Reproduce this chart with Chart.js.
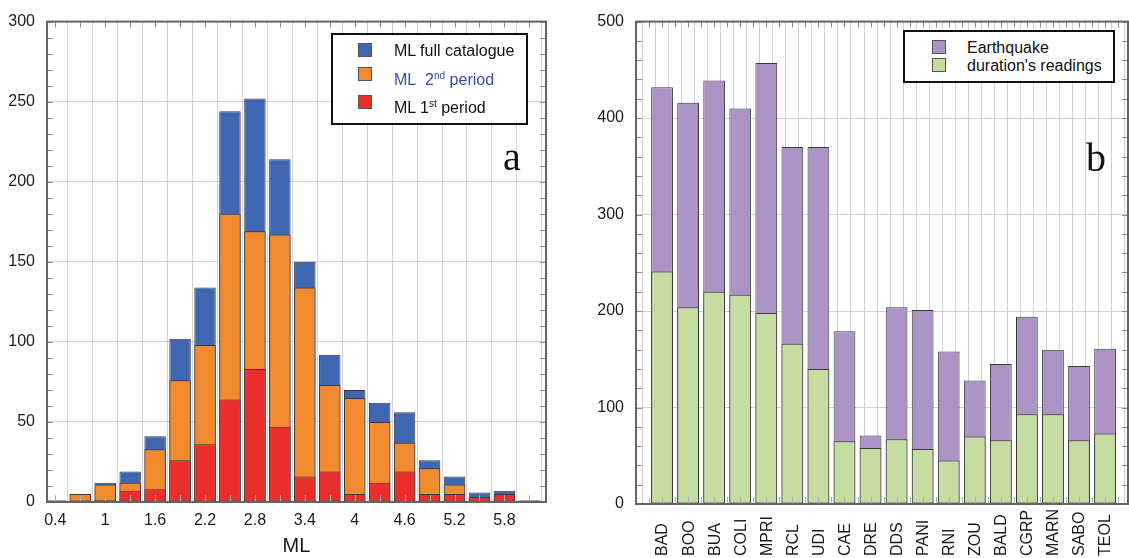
<!DOCTYPE html>
<html>
<head>
<meta charset="utf-8">
<script src="https://cdn.jsdelivr.net/npm/chart.js@4.4.0/dist/chart.umd.min.js"></script>
<style>
    body { margin: 0; background: #ffffff; font-family: "Liberation Sans", Arial, sans-serif; }
    #wrap { position: relative; width: 1129px; height: 558px; overflow: hidden; }
    canvas { position: absolute; top: 0; }
    .legend { position: absolute; border: 2px solid #111; background: #fff; box-sizing: border-box; font-size: 16px; color: #111; }
    .legend .item { position: absolute; white-space: nowrap; line-height: 18px; }
    .legend .swatch { position: absolute; width: 14px; height: 14px; border: 1px solid #555; box-sizing: border-box; }
    .legend sup { font-size: 10px; line-height: 0; vertical-align: 6px; }
    .panel_letter { position: absolute; font-family: "Liberation Serif", "DejaVu Serif", serif; font-size: 40px; color: #111; line-height: 40px; }
</style>
</head>
<body>
<div id="wrap">
    <canvas id="chart_ml" width="560" height="558" style="left:0px"></canvas>
    <canvas id="chart_stations" width="549" height="558" style="left:580px"></canvas>

    <div class="legend" style="left:331px; top:33px; width:197px; height:92px;">
        <span class="swatch" style="left:25px; top:8px; background:#3f66b0"></span>
        <span class="item" style="left:61px; top:7px;">ML full catalogue</span>
        <span class="swatch" style="left:25px; top:32px; background:#f28b30"></span>
        <span class="item" style="left:61px; top:36px; color:#3b4ba8">ML&nbsp; 2<sup>nd</sup> period</span>
        <span class="swatch" style="left:25px; top:60px; background:#eb2f2d"></span>
        <span class="item" style="left:61px; top:64px;">ML 1<sup>st</sup> period</span>
    </div>
    <div class="panel_letter" style="left:503px; top:137px;">a</div>

    <div class="legend" style="left:903px; top:30px; width:212px; height:53px;">
        <span class="swatch" style="left:27px; top:8px; background:#ac93c5"></span>
        <span class="item" style="left:62px; top:7px;">Earthquake</span>
        <span class="swatch" style="left:27px; top:26px; background:#c6dda2"></span>
        <span class="item" style="left:62px; top:25px;">duration's readings</span>
    </div>
    <div class="panel_letter" style="left:1086px; top:138px;">b</div>
</div>

<script>

// panel a : ML histogram, bins of 0.3
const ml_bins = [0.4, 0.7, 1.0, 1.3, 1.6, 1.9, 2.2, 2.5, 2.8, 3.1, 3.4, 3.7, 4.0, 4.3, 4.6, 4.9, 5.2, 5.5, 5.8, 6.1];
const ml_tick_labels = ['0.4', '1', '1.6', '2.2', '2.8', '3.4', '4', '4.6', '5.2', '5.8'];
const ml_full = [1, 5, 12, 19, 41, 102, 134, 244, 252, 214, 150, 92, 70, 62, 56, 26, 16, 6, 7, 1];
const ml_second = [1, 5, 11, 12, 33, 76, 98, 180, 169, 167, 134, 73, 65, 50, 37, 21, 11, 3, 2, 0];
const ml_first = [0, 0, 1, 7, 8, 26, 36, 64, 83, 47, 16, 19, 5, 12, 19, 5, 5, 3, 5, 1];

// panel b : stations
const stations = ['BAD', 'BOO', 'BUA', 'COLI', 'MPRI', 'RCL', 'UDI', 'CAE', 'DRE', 'DDS', 'PANI', 'RNI', 'ZOU', 'BALD', 'CGRP', 'MARN', 'SABO', 'TEOL'];
const earthquakes = [432, 416, 439, 410, 457, 370, 370, 179, 71, 204, 201, 158, 128, 145, 194, 160, 143, 161];
const duration_readings = [241, 204, 220, 217, 198, 166, 140, 65, 58, 67, 57, 45, 70, 66, 93, 93, 66, 73];

const font_family = '"Liberation Sans", Arial, sans-serif';
const tick_font = { family: font_family, size: 16 };
const grid_color = '#d2d2d2';
const bar_border = '#3a3a3a';


// frame round the plot + small inner ticks like the original
const frameTicks = {
    id: 'frameTicks',
    afterDraw(chart, args, opts){

        const { ctx, chartArea: a } = chart;
        const x = chart.scales.x;
        const y = chart.scales.y;

        ctx.save();
        ctx.lineWidth = 1;

        ctx.strokeStyle = '#8c8c8c';
        for(let v = 0; v <= y.max; v += opts.yMinor){
            let py = Math.round(y.getPixelForValue(v)) + 0.5;
            ctx.beginPath();
            ctx.moveTo(a.left, py); ctx.lineTo(a.left + 6, py);
            ctx.moveTo(a.right - 6, py); ctx.lineTo(a.right, py);
            ctx.stroke();
        }

        x.ticks.forEach(t => {
            let px = Math.round(x.getPixelForValue(t.value)) + 0.5;
            ctx.strokeStyle = '#8c8c8c';
            ctx.beginPath();
            ctx.moveTo(px, a.top); ctx.lineTo(px, a.top + 6);
            ctx.stroke();
            ctx.strokeStyle = '#b4b4b4';
            ctx.beginPath();
            ctx.moveTo(px, a.bottom); ctx.lineTo(px, a.bottom - 7);
            ctx.stroke();
        });

        ctx.strokeStyle = '#646464';
        ctx.lineWidth = 2;
        ctx.strokeRect(a.left, a.top, a.right - a.left, a.bottom - a.top);

        ctx.restore();
    }
};


// station names: vertical, reading upward, all starting from the same baseline
const stationLabels = {
    id: 'stationLabels',
    afterDraw(chart){

        const { ctx } = chart;
        const x = chart.scales.x;

        ctx.save();
        ctx.font = '16px ' + font_family;
        ctx.fillStyle = '#1a1a1a';
        ctx.textAlign = 'left';
        ctx.textBaseline = 'middle';

        stations.forEach((name, i) => {
            ctx.save();
            ctx.translate(x.getPixelForValue(i) + 1, 556);
            ctx.rotate(-Math.PI / 2);
            ctx.fillText(name, 0, 0);
            ctx.restore();
        });

        ctx.restore();
    }
};


function points(xs, ys){
    return xs.map((v, i) => ({ x: v, y: ys[i] }));
}


function barSet(label, values, color, order, pct){
    return {
        label: label,
        data: values,
        backgroundColor: color,
        borderColor: bar_border,
        borderWidth: 1,
        borderSkipped: false,
        grouped: false,
        order: order,
        categoryPercentage: 1,
        barPercentage: pct
    };
}


new Chart(document.getElementById('chart_ml'), {
    type: 'bar',
    data: {
        datasets: [
            barSet('ML full catalogue', points(ml_bins, ml_full), '#3f66b0', 3, 0.86),
            barSet('ML 2nd period', points(ml_bins, ml_second), '#f28b30', 2, 0.86),
            barSet('ML 1st period', points(ml_bins, ml_first), '#eb2f2d', 1, 0.86)
        ]
    },
    options: {
        responsive: false,
        animation: false,
        devicePixelRatio: 1,
        layout: { padding: { top: 19, right: 14, left: 0, bottom: 0 } },
        plugins: {
            legend: { display: false },
            tooltip: { enabled: false },
            frameTicks: { yMinor: 10 }
        },
        scales: {
            x: {
                type: 'linear',
                min: 0.3,
                max: 6.3,
                offset: false,
                afterBuildTicks: s => { s.ticks = ml_bins.map(v => ({ value: v })); },
                afterFit: s => { s.height = 56; },
                ticks: {
                    autoSkip: false,
                    maxRotation: 0,
                    padding: 9,
                    color: '#1a1a1a',
                    font: tick_font,
                    callback: (v, i) => (i % 2 === 0 ? ml_tick_labels[i / 2] : '')
                },
                grid: { color: grid_color, drawTicks: false },
                border: { display: false },
                title: {
                    display: true,
                    text: 'ML',
                    color: '#1a1a1a',
                    font: { family: font_family, size: 20 },
                    padding: 0
                }
            },
            y: {
                min: 0,
                max: 300,
                afterFit: s => { s.width = 47; },
                ticks: { stepSize: 50, padding: 12, color: '#1a1a1a', font: tick_font },
                grid: { color: grid_color, drawTicks: false },
                border: { display: false }
            }
        }
    },
    plugins: [frameTicks]
});


let station_index = stations.map((s, i) => i);

// grid/ticks every half station, so the bar slot is two tick steps wide
new Chart(document.getElementById('chart_stations'), {
    type: 'bar',
    data: {
        datasets: [
            barSet('Earthquake', points(station_index, earthquakes), '#ac93c5', 2, 1.67),
            barSet("duration's readings", points(station_index, duration_readings), '#c6dda2', 1, 1.67)
        ]
    },
    options: {
        responsive: false,
        animation: false,
        devicePixelRatio: 1,
        layout: { padding: { top: 20, right: 1, left: 0, bottom: 0 } },
        plugins: {
            legend: { display: false },
            tooltip: { enabled: false },
            frameTicks: { yMinor: 20 }
        },
        scales: {
            x: {
                type: 'linear',
                min: -1,
                max: 17.88,
                offset: false,
                afterBuildTicks: s => {
                    let ticks = [];
                    for(let i = -1; i <= 35; i++){
                        ticks.push({ value: i / 2 });
                    }
                    s.ticks = ticks;
                },
                afterFit: s => { s.height = 54; },
                ticks: { display: false, autoSkip: false },
                grid: { color: grid_color, drawTicks: false },
                border: { display: false }
            },
            y: {
                min: 0,
                max: 500,
                afterFit: s => { s.width = 56; },
                ticks: { stepSize: 100, padding: 12, color: '#1a1a1a', font: tick_font },
                grid: { color: grid_color, drawTicks: false },
                border: { display: false }
            }
        }
    },
    plugins: [frameTicks, stationLabels]
});

</script>
</body>
</html>
